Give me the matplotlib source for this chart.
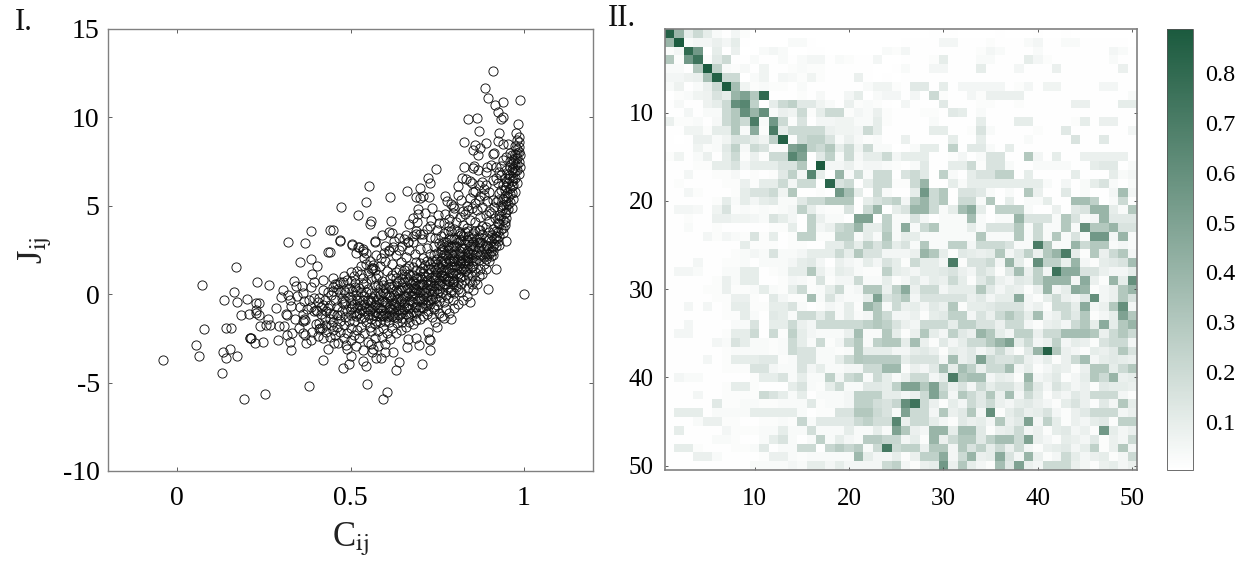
import numpy as np
import matplotlib
matplotlib.use("Agg")
import matplotlib.pyplot as plt
from matplotlib.colors import LinearSegmentedColormap

plt.rcParams["font.family"] = ["Liberation Serif", "DejaVu Serif"]
plt.rcParams["mathtext.fontset"] = "stix"
plt.rcParams["axes.unicode_minus"] = False

# panel I: (C_ij, J_ij)
outer_points = [
    (-.04, -3.72), (.07, .54), (.054, -2.87), (.063, -3.47), (.078, -1.95), (.128, -4.46), (.14, -3.6),
    (.132, -3.25), (.153, -3.1), (.171, -3.47), (.17, 1.54), (.135, -.31), (.163, .14), (.171, -.44),
    (.2, -.29), (.185, -1.19), (.208, -1.14), (.142, -1.93), (.154, -1.93), (.193, -5.9), (.254, -5.62),
    (.379, -5.22), (.209, -2.46), (.209, -2.46), (.212, -2.5), (.225, -2.78), (.248, -2.68), (.23, .69),
    (.264, .5), (.228, -.52), (.235, -.52), (.228, -.89), (.228, -1.08), (.235, -1.18), (.238, -1.78),
    (.256, -1.76), (.269, -1.74), (.262, -1.42), (.293, -1.78), (.307, -1.82), (.29, -2.61), (.317, -2.31),
    (.332, -2.21), (.325, -2.72), (.328, -3.18), (.285, -.8), (.313, -1.14), (.316, -1.16), (.304, .24),
    (.298, -.14), (.319, -.06), (.324, -.33), (.329, -.67), (.337, .75), (.343, .46), (.36, .46), (.363, .09),
    (.353, 1.82), (.387, 1.97), (.402, 1.6), (.39, 1.12), (.394, .71), (.421, .82), (.385, .39), (.321, 2.97),
    (.368, 2.91), (.385, 3.59), (.44, 3.63), (.434, 2.39), (.363, -1.14), (.365, -1.42), (.368, -1.45),
    (.362, -1.5), (.399, -.89), (.402, -.93), (.396, -.97), (.413, -1.93), (.417, -1.9), (.41, -1.98),
    (.407, -2.35), (.362, -2.21), (.372, -2.78), (.385, -2.59), (.434, -3.12), (.42, -3.7),
]
upper_points = [
    (.91, 12.62), (.887, 11.68), (.898, 11.1), (.918, 10.72), (.939, 10.87), (.989, 11.0), (.925, 10.3),
    (.941, 10.04), (.934, 9.89), (.838, 9.89), (.866, 9.98), (.983, 9.64), (.871, 9.23), (.93, 9.1), (.977, 9.1),
    (.829, 8.63), (.858, 8.46), (.873, 8.25), (.853, 8.15), (.89, 8.53), (.869, 7.85), (.927, 8.68), (.939, 8.49),
    (.955, 8.49), (.91, 7.93), (.915, 7.97), (.827, 7.17), (.856, 7.27), (.854, 7.12), (.869, 7.02), (.895, 7.17),
    (.89, 6.89), (.919, 7.17), (.935, 7.25), (.747, 7.06), (.723, 6.59), (.729, 6.27), (.553, 6.12), (.7, 5.99),
    (.662, 5.82), (.613, 5.51), (.545, 5.23), (.473, 4.95), (.523, 4.5), (.56, 4.16), (.555, 3.97), (.617, 4.16),
    (.449, 3.63), (.471, 3.06), (.505, 2.82), (.521, 2.69), (.535, 2.55), (.57, 3.03), (.611, 3.53), (.621, 3.46),
    (.659, 3.36), (.69, 3.42), (.702, 3.42), (.665, 2.97), (.68, 4.31), (.692, 4.08), (.695, 4.8), (.695, 4.53),
    (.715, 4.61), (.688, 5.51), (.7, 5.42), (.709, 5.55), (.726, 5.5), (.772, 5.57), (.779, 5.29), (.789, 5.1),
    (.81, 6.12), (.821, 6.55), (.832, 6.49), (.844, 6.4), (.851, 6.27), (.859, 5.83), (.774, 4.53), (.753, 4.48),
    (.731, 4.19), (.797, 4.57), (.892, 6.17), (.91, 6.46), (.935, 6.74), (.933, 5.89),
]
lower_points = [
    (1.0, 0.0), (.896, .29), (.921, 1.44), (.844, -.46), (.854, .24), (.75, -1.87), (.79, -1.4), (.77, -1.37),
    (.723, -2.16), (.727, -2.55), (.729, -2.58), (.729, -3.16), (.697, -2.89), (.69, -2.46), (.707, -3.95),
    (.639, -3.83), (.63, -4.31), (.547, -5.1), (.604, -5.51), (.594, -5.95), (.535, -3.8), (.544, -4.06),
    (.495, -3.93), (.479, -4.19), (.502, -3.48), (.561, -3.25), (.56, -2.84), (.486, -2.87), (.452, -2.78),
    (.574, -3.63), (.588, -3.59), (.601, -3.25), (.623, -3.25), (.662, -3.0), (.666, -2.55), (.5, 1.27), (.48, 1.03),
    (.531, 1.14), (.562, 1.46), (.566, 1.5), (.558, 1.42), (.55, 1.18), (.545, .65), (.514, .65), (.514, .43),
    (.477, .71), (.45, .9), (.45, .43), (.505, 2.8), (.516, 2.35), (.524, 2.65), (.535, 2.46), (.545, 2.35),
    (.57, 2.97), (.471, 3.0), (.442, 2.37), (.587, 2.03), (.596, 2.31), (.611, 2.5), (.622, 2.65), (.665, 2.97),
]
# right hand band, close to the curve
band_points = [
    (.985, 8.6), (.985, 8.3), (.98, 8.0), (.99, 7.9), (.975, 8.4), (.98, 7.7), (.985, 7.5), (.975, 7.3), (.99, 7.2),
    (.97, 7.6), (.965, 7.9), (.98, 7.0), (.97, 6.9), (.96, 7.2), (.985, 6.8), (.975, 6.6), (.965, 6.4), (.955, 6.8),
    (.97, 6.2), (.98, 6.3), (.96, 6.0), (.95, 6.4), (.965, 5.7), (.975, 5.8), (.955, 5.5), (.945, 5.9), (.96, 5.2),
    (.97, 5.4), (.95, 5.0), (.94, 5.4), (.955, 4.8), (.965, 4.9), (.945, 4.6), (.935, 5.0), (.95, 4.3), (.94, 4.2),
    (.93, 4.5), (.925, 4.0), (.945, 3.9), (.935, 3.7), (.92, 3.6), (.93, 3.3), (.915, 3.2), (.91, 3.7), (.925, 3.0),
    (.905, 3.0), (.92, 2.7), (.9, 2.6), (.985, 8.9), (.98, 8.75), (.975, 7.95), (.97, 7.15), (.958, 6.55), (.952, 5.7),
    (.948, 5.25), (.938, 4.75), (.928, 4.25), (.918, 4.3), (.908, 3.35), (.9, 3.15), (.895, 2.3), (.912, 2.45),
    (.89, 2.0), (.905, 2.15), (.885, 1.7), (.9, 1.85), (.875, 1.45), (.89, 1.4), (.87, 1.05), (.88, 1.15),
    (.86, .8), (.865, .55), (.85, .6), (.84, .35), (.835, -.1), (.825, -.3), (.82, .15), (.81, -.55), (.8, -.8),
    (.795, -.35), (.785, -1.05), (.775, -.85), (.765, -1.25), (.755, -1.05), (.745, -1.55), (.735, -1.3),
    (.96, 7.55), (.95, 7.0), (.945, 6.55), (.94, 6.15), (.93, 5.75), (.925, 5.3), (.915, 4.95), (.905, 4.6),
    (.9, 4.15), (.89, 3.8), (.88, 3.4), (.875, 2.95), (.87, 2.6), (.86, 2.2), (.855, 1.85), (.845, 1.5), (.84, 1.1),
    (.83, .8), (.82, .55), (.81, .3), (.8, .05), (.79, .25), (.78, -.2), (.77, -.45), (.76, -.15), (.75, -.6),
    (.74, -.85), (.73, -.55), (.72, -1.1), (.71, -.8), (.7, -1.4), (.69, -1.05), (.68, -1.7), (.67, -1.3),
]
# thick middle of the cloud
body_upper = [
    (.95, 3.0), (.94, 3.45), (.93, 2.8), (.92, 3.15), (.91, 2.2), (.9, 3.5), (.9, 4.7), (.895, 5.25), (.89, 4.5), (.885, 5.6),
    (.88, 4.95), (.88, 3.85), (.875, 4.35), (.87, 5.35), (.87, 3.65), (.865, 4.75), (.865, 3.1), (.86, 5.15), (.86, 4.1),
    (.855, 3.45), (.85, 4.85), (.85, 2.85), (.845, 5.45), (.845, 4.2), (.84, 3.6), (.84, 2.35), (.835, 5.0), (.835, 3.05),
    (.83, 4.55), (.83, 1.95), (.825, 3.9), (.825, 2.6), (.82, 5.3), (.82, 3.35), (.815, 4.35), (.815, 2.2), (.81, 5.6),
    (.81, 2.95), (.805, 1.65), (.8, 4.9), (.8, 3.7), (.8, 2.45), (.795, 1.2), (.79, 3.15), (.79, 1.9), (.785, 4.25),
    (.785, 2.6), (.78, 3.55), (.78, 1.45), (.775, 2.2), (.775, .85), (.77, 4.0), (.77, 2.95), (.765, 1.7), (.76, 3.3),
    (.76, 2.4), (.76, 1.1), (.755, .5), (.75, 2.0), (.75, 3.65), (.745, 1.35), (.74, 2.75), (.74, .8), (.735, 4.85),
    (.735, 1.85), (.73, 3.25), (.73, 2.3), (.73, .25), (.725, 1.15), (.72, 3.7), (.72, 2.6), (.72, -.1), (.715, 1.65),
    (.71, 2.05), (.71, .6), (.705, 3.1), (.7, 1.3), (.7, 2.55), (.7, -.2), (.695, .9), (.69, 3.6), (.69, 1.8), (.69, .3),
    (.685, 2.25), (.68, 2.95), (.68, 1.1), (.68, -.45), (.675, .55), (.67, 1.6), (.67, 3.95), (.665, .05), (.66, 2.1),
    (.66, .95), (.66, -.75), (.655, 1.35), (.65, 2.7), (.65, .4), (.65, -.25), (.645, 1.8), (.64, .75), (.64, 3.2),
    (.64, -.6), (.635, .1), (.63, 1.25), (.63, 2.2), (.63, -.95), (.625, .5), (.62, 1.7), (.62, -.3), (.615, .9),
    (.61, -.05), (.61, 2.45), (.61, -.7), (.605, 1.3), (.6, .35), (.6, -1.05), (.6, 1.85), (.595, -.4), (.59, .75),
    (.59, 3.35), (.585, -.8), (.58, .15), (.58, 1.1), (.58, -.25), (.575, 2.2), (.57, .5), (.57, -.6), (.57, -1.0),
    (.565, 1.65), (.56, .05), (.56, .85), (.555, -.35), (.55, .3), (.55, -.85), (.545, 1.7), (.54, -.1), (.54, -.55),
    (.535, .6), (.53, -.9), (.53, .15), (.525, -.3), (.52, 1.3), (.52, -.7), (.515, -.05), (.51, -1.0), (.505, .2),
    (.5, -.5), (.495, -.15), (.49, -.95), (.485, .1), (.48, -.55), (.475, -.2), (.47, -1.15), (.465, .3), (.46, -.75),
    (.455, -.3), (.45, -1.1), (.445, -.05), (.44, -.6), (.435, .1), (.43, -.95), (.425, -.35), (.42, .25), (.415, -.7),
    (.41, -.2), (.44, -1.05), (.45, .2), (.46, .55), (.47, .7), (.48, .25), (.49, .8), (.5, .75), (.51, 1.05), (.53, 1.6),
    (.54, 2.05), (.555, 1.9), (.57, 1.35), (.585, 1.6), (.6, 2.75), (.625, 3.0), (.64, 2.5), (.655, 3.1), (.67, 2.5),
    (.68, 3.3), (.71, 3.4), (.73, 3.85), (.745, 3.2), (.755, 4.05), (.77, 3.45), (.785, 3.85), (.795, 5.0), (.805, 4.1),
    (.815, 3.45), (.825, 4.7), (.84, 4.75), (.855, 5.8), (.87, 6.2), (.88, 6.35), (.9, 5.8), (.91, 5.35), (.92, 5.2),
    (.925, 6.3), (.93, 6.9), (.94, 7.6), (.95, 7.75), (.96, 8.0), (.92, 6.55), (.905, 7.3), (.885, 5.95), (.875, 5.55),
]
body_lower = [
    (.86, 1.25), (.85, 1.05), (.845, .75), (.84, 1.7), (.83, 1.3), (.825, 1.75), (.82, .95), (.815, 1.5), (.81, .7),
    (.81, 1.15), (.805, .4), (.8, 1.55), (.8, .8), (.795, .55), (.79, 1.2), (.79, .1), (.785, .75), (.78, 1.0), (.78, .35),
    (.775, -.05), (.77, .6), (.77, 1.35), (.765, .15), (.76, .75), (.755, -.4), (.75, .3), (.75, .95), (.745, -.2),
    (.74, .45), (.74, -.75), (.735, .0), (.73, .75), (.73, -.35), (.725, -.95), (.72, .35), (.715, -.5), (.71, -.1),
    (.71, -1.25), (.705, .25), (.7, -.75), (.7, .55), (.695, -.35), (.69, -1.45), (.69, -.7), (.685, .05), (.68, -1.0),
    (.68, .35), (.675, -.4), (.67, -1.55), (.67, -.8), (.665, -1.15), (.66, -.1), (.66, -1.85), (.655, -.5), (.65, -1.35),
    (.65, -.9), (.645, -2.05), (.64, -.25), (.64, -1.2), (.635, -1.65), (.63, -.45), (.63, -2.2), (.625, -1.3), (.62, -.85),
    (.62, -1.9), (.615, -2.55), (.61, -1.25), (.61, -1.6), (.605, -2.2), (.6, -.45), (.6, -1.5), (.6, -2.8), (.595, -1.9),
    (.59, -1.15), (.59, -2.4), (.585, -1.55), (.58, -.75), (.58, -2.1), (.58, -2.95), (.575, -1.25), (.57, -1.7), (.57, -2.5),
    (.565, -3.1), (.56, -.85), (.56, -1.4), (.56, -2.1), (.555, -1.85), (.55, -1.2), (.55, -2.7), (.545, -1.55), (.54, -2.2),
    (.54, -.95), (.535, -3.15), (.53, -1.35), (.53, -1.85), (.525, -2.5), (.52, -1.1), (.52, -2.05), (.515, -2.95), (.51, -1.5),
    (.51, -2.3), (.505, -.75), (.5, -1.2), (.5, -1.9), (.5, -2.6), (.495, -1.5), (.49, -2.2), (.49, -3.1), (.485, -1.3),
    (.48, -1.75), (.48, -2.5), (.475, -.95), (.47, -1.5), (.47, -2.15), (.465, -2.75), (.46, -1.2), (.46, -1.85), (.455, -2.3),
    (.45, -1.55), (.45, -2.05), (.445, -1.75), (.44, -2.4), (.44, -1.4), (.435, -.8), (.43, -1.75), (.43, -2.15), (.425, -1.35),
    (.42, -.6), (.42, -2.5), (.415, -1.1), (.41, -1.65), (.405, -.45), (.4, -1.7), (.395, -.2), (.39, -2.15), (.385, -.75),
    (.38, -.3), (.375, -.85), (.37, -2.3), (.365, -.4), (.355, -.7), (.35, -1.9), (.345, -.1), (.34, -1.4), (.455, .55),
    (.47, .1), (.485, -.4), (.505, -.3), (.525, .35), (.545, .1), (.565, -.2), (.585, .35), (.605, -.15), (.625, -.05),
    (.645, .25), (.665, .35), (.685, .65), (.705, .85), (.725, .55), (.745, .95), (.765, 1.1), (.655, .7), (.635, .65),
    (.615, .4), (.595, .15), (.575, .9), (.535, .9), (.515, .25), (.495, .35), (.475, -.45), (.675, -.05), (.695, .15),
    (.715, .25), (.735, .35), (.755, .2), (.775, .55), (.795, .9), (.815, 1.0), (.835, 1.45), (.855, 1.6), (.87, 1.95),
    (.88, 2.3), (.89, 2.8), (.86, 2.7), (.85, 2.3), (.84, 2.05), (.83, 2.3), (.82, 1.85), (.81, 1.95), (.8, 2.05),
    (.79, 2.3), (.78, 2.05), (.77, 1.85), (.76, 1.5), (.75, 1.7), (.74, 1.55), (.73, 1.4), (.72, 1.9), (.71, 1.2),
    (.7, 1.75), (.69, 1.35), (.68, 1.55), (.67, 1.15), (.66, 1.5), (.65, 1.15), (.64, 1.4), (.63, .9), (.62, 1.1),
]
# black ridge of the cloud, where the rings pile on top of each other
ridge_points = [
    (.87, 3.25), (.865, 2.9), (.86, 3.6), (.855, 2.55), (.85, 3.2), (.85, 2.05), (.845, 2.75), (.84, 3.3), (.84, 1.85), (.835, 2.45),
    (.835, 3.75), (.83, 2.85), (.83, 1.6), (.825, 3.3), (.825, 2.15), (.82, 2.6), (.82, 1.35), (.815, 3.0), (.815, 1.75), (.81, 2.35),
    (.81, 3.6), (.805, 1.2), (.805, 2.75), (.8, 1.85), (.8, 3.15), (.795, 2.2), (.795, .7), (.79, 2.75), (.79, 1.55), (.785, 1.25),
    (.785, 3.2), (.78, 2.5), (.78, .75), (.775, 1.75), (.775, 2.95), (.77, 1.05), (.77, 2.3), (.765, .45), (.765, 2.05), (.76, 1.25),
    (.76, 2.75), (.755, .8), (.755, 1.55), (.75, 2.35), (.75, .05), (.745, 1.1), (.745, 1.85), (.74, .2), (.74, 2.2), (.735, .95),
    (.735, -.25), (.73, 1.7), (.73, .5), (.725, 1.4), (.725, -.3), (.72, .8), (.72, -.6), (.715, 1.05), (.715, .05), (.71, 1.5),
    (.71, -.35), (.705, .55), (.705, -.7), (.7, .95), (.7, .1), (.695, -.9), (.695, .5), (.69, -.2), (.69, .95), (.685, -.7),
    (.685, .35), (.68, -.1), (.68, .75), (.675, -1.05), (.675, .2), (.67, -.3), (.67, .75), (.665, -.6), (.665, .85), (.66, .3),
    (.66, -1.1), (.655, -.1), (.655, -.85), (.65, .85), (.65, -1.6), (.645, -.4), (.645, -1.05), (.64, .25), (.64, -.85), (.635, -.25),
    (.635, -1.35), (.63, .25), (.63, -.65), (.625, -.55), (.625, -1.05), (.62, .3), (.62, -1.25), (.615, -.15), (.615, -.85), (.61, .55),
    (.61, -1.0), (.605, -.5), (.605, -1.3), (.6, .05), (.6, -.75), (.595, -1.25), (.595, .5), (.59, -.45), (.59, -.9), (.585, -.05),
    (.585, -1.25), (.58, .5), (.58, -1.05), (.575, -.45), (.575, -1.5), (.57, -.1), (.565, -.75), (.565, -1.2), (.56, -.45), (.555, -.95),
    (.55, -.35), (.545, -.75), (.54, -1.3), (.535, -.35), (.53, -.6), (.525, -1.05), (.52, -.35), (.515, -1.25), (.51, -.55), (.5, -.85),
    (.89, 3.2), (.885, 2.55), (.88, 2.9), (.875, 2.2), (.875, 3.65), (.87, 2.95), (.865, 2.35), (.86, 1.95), (.855, 2.95), (.85, 1.6),
    (.845, 2.25), (.84, 2.95), (.835, 2.1), (.83, 3.5), (.825, 1.4), (.82, 3.05), (.815, 2.45), (.81, 1.6), (.805, 3.15), (.8, 2.75),
    (.795, 1.85), (.79, 3.55), (.785, 1.95), (.78, 2.8), (.775, 1.35), (.77, 2.65), (.765, 2.55), (.76, 1.85), (.755, 2.9), (.75, 1.25),
    (.94, 5.05), (.945, 5.55), (.95, 6.05), (.955, 6.3), (.96, 6.75), (.965, 7.05), (.97, 7.4), (.975, 7.7), (.98, 8.2), (.935, 4.4),
    (.93, 3.95), (.925, 3.5), (.92, 3.3), (.915, 2.85), (.91, 2.7), (.905, 2.45), (.9, 2.25), (.895, 2.7), (.89, 2.4), (.885, 2.1),
    (.955, 5.1), (.96, 5.65), (.965, 6.1), (.97, 6.55), (.975, 6.95), (.98, 7.35), (.985, 8.05), (.95, 4.65), (.945, 4.1), (.94, 3.75),
]

# panel II: 100 * value, 50 rows, left and right halves
heat_left = [
    [85, 40, 10, 20, 10, 3, 1, 5, 2, 0, 0, 0, 0, 0, 0, 0, 0, 0, 0, 0, 0, 0, 0, 0, 0],
    [40, 88, 3, 5, 5, 8, 5, 10, 1, 0, 0, 0, 0, 3, 3, 1, 0, 0, 0, 0, 0, 0, 0, 0, 0],
    [2, 5, 80, 55, 0, 10, 1, 8, 0, 0, 3, 5, 3, 0, 0, 1, 1, 0, 0, 0, 0, 0, 0, 3, 2],
    [30, 2, 55, 75, 2, 12, 20, 1, 1, 3, 1, 1, 3, 1, 3, 5, 5, 1, 3, 2, 1, 1, 5, 0, 0],
    [3, 3, 1, 30, 88, 25, 3, 2, 4, 1, 6, 1, 1, 2, 3, 2, 2, 1, 1, 1, 1, 1, 0, 0, 1],
    [5, 5, 7, 8, 35, 85, 20, 20, 0, 3, 6, 1, 5, 4, 2, 6, 2, 1, 1, 1, 8, 1, 0, 1, 0],
    [3, 7, 1, 3, 8, 20, 88, 35, 6, 2, 3, 2, 2, 1, 3, 1, 1, 1, 1, 1, 1, 3, 6, 6, 2],
    [0, 2, 3, 6, 7, 15, 10, 40, 50, 30, 80, 1, 1, 1, 2, 1, 4, 1, 1, 5, 10, 0, 3, 5, 5],
    [1, 4, 1, 1, 7, 10, 20, 60, 65, 25, 1, 10, 20, 25, 12, 12, 6, 3, 1, 8, 2, 3, 2, 1, 0],
    [1, 1, 5, 1, 3, 3, 20, 30, 60, 40, 60, 3, 8, 6, 20, 2, 10, 20, 20, 2, 5, 3, 8, 2, 1],
    [8, 2, 2, 3, 1, 4, 20, 30, 20, 70, 3, 55, 20, 2, 15, 1, 5, 5, 6, 6, 3, 3, 10, 2, 1],
    [1, 1, 6, 6, 2, 10, 10, 30, 3, 45, 2, 70, 10, 20, 20, 20, 20, 8, 6, 6, 5, 20, 10, 1, 1],
    [1, 0, 1, 8, 8, 3, 6, 15, 15, 10, 6, 25, 85, 2, 20, 25, 25, 15, 3, 8, 4, 2, 3, 1, 1],
    [1, 1, 1, 6, 2, 3, 12, 25, 4, 20, 15, 2, 2, 50, 55, 25, 20, 30, 10, 20, 6, 20, 3, 3, 0],
    [2, 6, 1, 3, 8, 1, 10, 20, 2, 8, 2, 20, 20, 65, 50, 1, 12, 25, 3, 20, 4, 10, 10, 20, 5],
    [1, 1, 1, 2, 2, 10, 10, 15, 5, 10, 10, 10, 15, 15, 30, 1, 88, 5, 5, 8, 3, 5, 5, 3, 2],
    [1, 1, 5, 1, 1, 2, 2, 4, 1, 2, 1, 2, 12, 25, 5, 65, 10, 1, 40, 3, 20, 3, 20, 20, 1],
    [1, 2, 1, 1, 1, 1, 2, 2, 8, 2, 10, 10, 20, 5, 20, 20, 1, 82, 15, 20, 1, 10, 20, 20, 2],
    [1, 1, 5, 2, 1, 1, 1, 2, 10, 15, 15, 20, 6, 30, 1, 1, 2, 1, 55, 35, 10, 1, 20, 3, 1],
    [1, 1, 1, 1, 1, 2, 10, 3, 10, 5, 10, 12, 3, 3, 12, 20, 20, 30, 30, 30, 1, 10, 15, 20, 25],
    [1, 5, 5, 4, 1, 6, 15, 2, 3, 2, 3, 2, 3, 5, 25, 10, 3, 2, 2, 15, 1, 20, 40, 1, 10],
    [1, 1, 2, 1, 1, 8, 8, 6, 6, 5, 3, 15, 10, 5, 1, 25, 8, 3, 3, 1, 50, 50, 1, 25, 3],
    [1, 1, 3, 1, 1, 2, 1, 1, 1, 1, 1, 2, 2, 10, 1, 25, 5, 8, 20, 25, 40, 10, 10, 25, 3],
    [1, 1, 1, 1, 5, 2, 5, 3, 2, 15, 2, 10, 1, 2, 25, 25, 2, 2, 25, 25, 3, 10, 3, 30, 3],
    [1, 1, 1, 1, 1, 1, 1, 1, 10, 2, 2, 2, 1, 2, 2, 1, 1, 10, 10, 20, 10, 25, 15, 25, 10],
    [1, 1, 1, 1, 1, 1, 1, 2, 3, 5, 3, 15, 3, 3, 5, 10, 10, 10, 20, 10, 30, 15, 15, 5, 5],
    [1, 1, 1, 5, 1, 1, 2, 2, 3, 1, 3, 3, 3, 5, 10, 12, 5, 1, 8, 5, 3, 10, 5, 15, 10],
    [1, 5, 5, 3, 1, 1, 3, 3, 10, 10, 1, 2, 3, 10, 10, 30, 8, 3, 10, 8, 3, 2, 2, 25, 10],
    [1, 1, 1, 1, 1, 2, 8, 3, 10, 10, 1, 1, 2, 5, 4, 2, 15, 2, 5, 5, 20, 3, 3, 10, 2],
    [1, 1, 1, 1, 2, 2, 8, 2, 2, 3, 10, 3, 2, 10, 20, 2, 3, 10, 20, 3, 5, 30, 30, 8, 25],
    [1, 1, 1, 1, 1, 2, 2, 8, 8, 2, 1, 12, 5, 2, 2, 35, 3, 15, 5, 3, 3, 10, 50, 15, 20],
    [1, 1, 5, 1, 5, 1, 2, 10, 10, 2, 2, 10, 10, 15, 3, 1, 2, 5, 3, 10, 2, 40, 30, 3, 20],
    [1, 1, 1, 1, 1, 1, 2, 2, 10, 3, 1, 12, 10, 3, 20, 20, 10, 20, 3, 10, 3, 5, 30, 20, 5],
    [1, 1, 5, 1, 1, 1, 1, 3, 3, 15, 1, 10, 10, 20, 8, 5, 20, 20, 20, 20, 20, 25, 30, 25, 15],
    [1, 5, 5, 1, 1, 1, 2, 10, 10, 20, 1, 20, 2, 25, 10, 5, 3, 3, 3, 8, 35, 3, 3, 30, 10],
    [1, 1, 1, 1, 1, 5, 3, 15, 10, 3, 3, 2, 3, 20, 10, 3, 20, 2, 5, 20, 30, 3, 25, 30, 30],
    [1, 1, 1, 1, 1, 1, 2, 3, 3, 3, 3, 2, 3, 20, 15, 15, 3, 3, 2, 3, 30, 10, 10, 10, 5],
    [1, 1, 1, 1, 5, 1, 2, 10, 10, 10, 12, 12, 2, 3, 15, 15, 3, 3, 10, 20, 30, 28, 28, 28, 28],
    [1, 1, 1, 1, 1, 1, 2, 2, 2, 15, 15, 5, 3, 3, 15, 5, 10, 3, 3, 5, 5, 20, 20, 38, 38],
    [1, 5, 3, 3, 1, 1, 1, 1, 1, 2, 10, 10, 15, 3, 10, 3, 3, 25, 5, 20, 25, 3, 20, 10, 3],
    [1, 1, 1, 1, 1, 1, 2, 10, 10, 2, 1, 1, 1, 10, 15, 3, 2, 10, 20, 3, 3, 12, 12, 10, 25],
    [1, 1, 1, 5, 1, 1, 2, 2, 2, 2, 20, 15, 10, 3, 10, 1, 3, 3, 3, 5, 25, 25, 25, 10, 10],
    [1, 1, 1, 1, 1, 12, 2, 2, 3, 3, 2, 2, 3, 3, 3, 12, 2, 3, 3, 5, 25, 25, 18, 15, 22],
    [1, 10, 10, 10, 1, 3, 3, 3, 3, 10, 10, 10, 10, 10, 3, 1, 2, 2, 15, 15, 30, 30, 20, 15, 3],
    [1, 1, 1, 3, 8, 8, 2, 2, 1, 1, 2, 2, 3, 2, 22, 3, 12, 12, 12, 12, 20, 25, 18, 18, 65],
    [1, 10, 1, 1, 1, 1, 5, 2, 2, 2, 3, 3, 10, 3, 3, 18, 3, 3, 3, 10, 3, 3, 10, 3, 50],
    [1, 1, 1, 1, 1, 3, 3, 2, 1, 1, 3, 10, 15, 3, 1, 3, 25, 3, 10, 5, 3, 28, 28, 22, 22],
    [1, 10, 10, 2, 1, 1, 1, 2, 2, 3, 12, 1, 3, 3, 20, 20, 1, 22, 28, 22, 28, 3, 20, 72, 20],
    [1, 1, 1, 8, 8, 3, 1, 1, 1, 1, 2, 8, 8, 3, 2, 3, 3, 3, 3, 3, 38, 10, 5, 5, 10],
    [1, 1, 1, 1, 1, 1, 1, 1, 1, 3, 3, 3, 3, 5, 3, 10, 10, 5, 10, 5, 5, 5, 5, 20, 25],
]
heat_right = [
    [0, 0, 0, 1, 1, 1, 0, 0, 0, 0, 1, 0, 0, 0, 1, 0, 0, 1, 0, 0, 0, 0, 0, 0, 0],
    [1, 1, 1, 1, 5, 5, 1, 1, 1, 2, 1, 1, 1, 3, 5, 1, 1, 3, 3, 1, 1, 1, 1, 1, 0],
    [5, 1, 1, 1, 1, 1, 1, 1, 2, 5, 3, 1, 1, 1, 3, 1, 1, 1, 1, 1, 1, 1, 5, 3, 1],
    [1, 1, 1, 2, 10, 1, 1, 1, 3, 3, 1, 1, 1, 10, 5, 2, 1, 1, 1, 1, 1, 1, 3, 1, 1],
    [3, 1, 1, 5, 5, 1, 1, 1, 10, 1, 1, 1, 5, 1, 1, 1, 8, 1, 1, 1, 1, 1, 1, 8, 1],
    [1, 1, 1, 1, 1, 1, 1, 1, 1, 1, 1, 1, 1, 1, 1, 1, 1, 1, 1, 1, 1, 1, 1, 1, 1],
    [1, 12, 12, 1, 10, 1, 5, 5, 5, 5, 5, 1, 2, 5, 1, 6, 6, 1, 1, 1, 1, 5, 5, 1, 1],
    [1, 5, 1, 20, 2, 1, 1, 5, 2, 8, 8, 8, 8, 1, 1, 1, 1, 1, 1, 1, 1, 1, 1, 1, 3],
    [5, 1, 1, 1, 12, 1, 1, 1, 2, 2, 1, 1, 2, 1, 1, 1, 1, 1, 8, 8, 1, 1, 1, 10, 10],
    [1, 1, 2, 2, 1, 12, 10, 1, 3, 1, 1, 1, 1, 1, 1, 1, 1, 1, 1, 1, 1, 1, 1, 1, 1],
    [1, 1, 1, 3, 1, 1, 1, 1, 10, 1, 1, 1, 10, 10, 1, 1, 1, 1, 2, 10, 1, 8, 8, 1, 1],
    [1, 1, 1, 10, 10, 1, 1, 2, 15, 3, 1, 1, 1, 1, 2, 1, 1, 12, 1, 1, 1, 1, 1, 1, 5],
    [8, 1, 1, 1, 1, 10, 1, 1, 10, 1, 1, 1, 1, 3, 1, 1, 1, 1, 15, 1, 1, 12, 1, 1, 1],
    [1, 3, 10, 10, 1, 25, 1, 12, 12, 3, 1, 10, 1, 1, 1, 1, 1, 1, 1, 1, 1, 1, 1, 1, 1],
    [10, 10, 10, 1, 1, 2, 5, 1, 3, 15, 15, 1, 1, 30, 5, 1, 10, 1, 1, 8, 8, 8, 8, 8, 1],
    [1, 3, 12, 1, 1, 10, 10, 20, 2, 15, 15, 3, 1, 1, 3, 3, 3, 3, 1, 1, 10, 12, 12, 1, 3],
    [15, 20, 12, 1, 25, 3, 1, 10, 15, 15, 25, 25, 1, 10, 1, 1, 1, 1, 10, 1, 1, 1, 10, 3, 5],
    [2, 20, 40, 1, 1, 10, 3, 10, 10, 10, 10, 10, 10, 10, 10, 3, 1, 5, 1, 3, 10, 15, 3, 1, 3],
    [1, 10, 55, 20, 30, 1, 15, 15, 12, 3, 1, 3, 1, 30, 8, 1, 1, 12, 1, 3, 1, 1, 5, 35, 5],
    [5, 30, 40, 20, 30, 1, 20, 20, 3, 30, 1, 10, 1, 3, 3, 10, 1, 1, 35, 35, 25, 1, 3, 20, 1],
    [15, 40, 40, 20, 3, 10, 35, 45, 10, 1, 25, 25, 25, 3, 1, 1, 8, 1, 12, 15, 40, 40, 10, 3, 30],
    [3, 15, 5, 1, 3, 3, 3, 35, 3, 1, 3, 3, 40, 15, 15, 15, 3, 30, 15, 3, 5, 40, 12, 12, 12],
    [45, 3, 20, 30, 3, 3, 3, 10, 3, 15, 15, 15, 30, 3, 20, 3, 3, 30, 3, 60, 30, 30, 40, 15, 15],
    [10, 10, 3, 3, 3, 3, 3, 3, 30, 3, 3, 3, 30, 3, 20, 3, 30, 3, 15, 3, 55, 55, 5, 40, 3],
    [15, 3, 30, 3, 3, 25, 25, 5, 20, 20, 20, 15, 3, 3, 70, 30, 3, 3, 40, 20, 30, 30, 3, 5, 3],
    [5, 8, 40, 30, 10, 2, 12, 10, 8, 10, 30, 5, 12, 25, 8, 30, 40, 70, 10, 2, 30, 8, 20, 30, 5],
    [2, 20, 10, 10, 5, 70, 2, 15, 15, 20, 5, 40, 10, 2, 60, 25, 25, 8, 40, 5, 2, 10, 12, 15, 35],
    [8, 5, 10, 10, 12, 15, 8, 5, 15, 10, 2, 12, 35, 8, 25, 5, 75, 45, 45, 15, 15, 8, 5, 5, 10],
    [5, 12, 5, 10, 8, 20, 10, 2, 12, 20, 8, 5, 12, 10, 25, 40, 40, 40, 5, 45, 8, 2, 40, 10, 60],
    [45, 8, 20, 20, 5, 10, 10, 10, 30, 12, 5, 10, 8, 2, 8, 40, 5, 10, 45, 40, 2, 5, 8, 30, 40],
    [30, 5, 15, 15, 15, 15, 15, 8, 12, 5, 10, 10, 45, 5, 2, 10, 20, 8, 5, 12, 60, 5, 8, 30, 15],
    [8, 10, 5, 12, 8, 30, 2, 10, 10, 12, 15, 15, 15, 5, 8, 2, 20, 20, 10, 45, 5, 8, 30, 60, 5],
    [5, 8, 2, 10, 12, 25, 25, 5, 15, 8, 20, 30, 20, 10, 35, 5, 8, 20, 12, 30, 2, 5, 10, 50, 30],
    [8, 5, 20, 20, 20, 10, 25, 25, 15, 15, 8, 20, 20, 5, 2, 8, 10, 5, 20, 30, 10, 45, 10, 30, 40],
    [2, 8, 30, 10, 5, 25, 12, 8, 40, 30, 10, 5, 25, 25, 8, 20, 20, 35, 35, 35, 30, 8, 20, 30, 20],
    [10, 35, 8, 2, 12, 5, 10, 20, 20, 30, 40, 50, 10, 20, 5, 8, 25, 5, 10, 8, 2, 15, 20, 20, 5],
    [5, 10, 12, 8, 2, 10, 8, 12, 5, 10, 20, 8, 2, 12, 40, 85, 30, 8, 5, 2, 10, 8, 12, 30, 15],
    [10, 15, 15, 15, 5, 35, 8, 12, 50, 20, 15, 15, 20, 8, 5, 10, 2, 8, 20, 35, 5, 10, 12, 10, 8],
    [2, 8, 5, 12, 35, 10, 35, 25, 8, 20, 20, 35, 5, 10, 2, 5, 10, 8, 2, 8, 30, 30, 10, 20, 30],
    [8, 20, 20, 5, 10, 70, 30, 35, 35, 5, 10, 8, 2, 40, 5, 8, 12, 2, 5, 10, 30, 20, 40, 8, 10],
    [50, 50, 30, 50, 20, 8, 15, 5, 20, 10, 15, 15, 8, 30, 12, 5, 15, 10, 5, 8, 2, 12, 10, 10, 8],
    [5, 8, 20, 50, 25, 5, 30, 20, 12, 30, 8, 35, 5, 20, 10, 2, 8, 5, 12, 8, 20, 20, 20, 5, 2],
    [60, 75, 20, 8, 2, 10, 5, 20, 12, 20, 8, 5, 10, 12, 8, 5, 2, 10, 15, 8, 2, 12, 5, 30, 10],
    [50, 20, 20, 5, 30, 8, 12, 30, 5, 60, 2, 10, 15, 8, 10, 15, 5, 2, 8, 12, 20, 20, 20, 5, 8],
    [8, 20, 20, 10, 5, 2, 12, 8, 10, 5, 30, 8, 12, 50, 5, 25, 10, 2, 8, 5, 10, 12, 2, 25, 25],
    [30, 8, 5, 40, 40, 10, 35, 35, 12, 2, 8, 10, 20, 5, 8, 2, 10, 12, 5, 8, 2, 55, 10, 5, 8],
    [5, 10, 2, 40, 8, 20, 30, 30, 12, 25, 35, 35, 20, 50, 8, 5, 2, 10, 8, 5, 12, 2, 8, 5, 20],
    [25, 25, 8, 30, 30, 5, 30, 15, 25, 10, 20, 8, 20, 5, 2, 8, 10, 12, 5, 10, 25, 2, 8, 30, 5],
    [2, 8, 25, 25, 45, 5, 20, 40, 8, 10, 45, 15, 5, 40, 8, 2, 5, 20, 10, 5, 8, 10, 2, 5, 20],
    [5, 2, 8, 10, 55, 8, 30, 10, 5, 2, 35, 12, 50, 8, 5, 20, 20, 20, 8, 5, 2, 8, 10, 5, 8],
]

x_ticks_left = [0, 0.5, 1]
x_labels_left = ["0", "0.5", "1"]
y_ticks_left = [-10, -5, 0, 5, 10, 15]
heat_ticks = [10, 20, 30, 40, 50]
cbar_ticks = [0.1, 0.2, 0.3, 0.4, 0.5, 0.6, 0.7, 0.8]

W, H = 1247, 567
fig = plt.figure(figsize=(W / 100, H / 100), dpi=100)


def px_axes(x0, y0, x1, y1):
    return fig.add_axes([x0 / W, 1 - y1 / H, (x1 - x0) / W, (y1 - y0) / H])


ax = px_axes(108, 29, 593, 471)
pts = np.array(outer_points + upper_points + lower_points + band_points + body_upper + body_lower + ridge_points)
ax.plot(pts[:, 0], pts[:, 1], "o", mfc="none", mec="#111111", ms=6.6, mew=0.65)
ax.set_xlim(-0.2, 1.2)
ax.set_ylim(-10, 15)
ax.set_xticks(x_ticks_left)
ax.set_xticklabels(x_labels_left)
ax.set_yticks(y_ticks_left)
ax.tick_params(direction="in", top=True, right=True, length=3, width=0.6, labelsize=20, color="#444444")
ax.tick_params(axis="x", pad=11)
ax.tick_params(axis="y", pad=6)
ax.set_xlabel(r"C$_{\mathrm{ij}}$", fontsize=25, labelpad=7, color="#222222")
ax.set_ylabel(r"J$_{\mathrm{ij}}$", fontsize=25, labelpad=6, color="#222222")
for s in ax.spines.values():
    s.set_color("#808080")
    s.set_linewidth(1.0)

matrix = np.hstack([np.array(heat_left), np.array(heat_right)]) / 100
cmap = LinearSegmentedColormap.from_list("wg", ["#ffffff", "#1b5a3e"])
ax2 = px_axes(665, 29, 1137, 470)
im = ax2.imshow(matrix, cmap=cmap, vmin=0.004, vmax=0.888, aspect="auto", interpolation="nearest",
                extent=[0.5, 50.5, 50.5, 0.5])
ax2.set_xticks(heat_ticks)
ax2.set_yticks(heat_ticks)
ax2.tick_params(direction="in", top=True, right=True, length=2.5, width=0.6, labelsize=18, color="#444444")
ax2.tick_params(axis="x", pad=13)
ax2.tick_params(axis="y", pad=8)
for s in ax2.spines.values():
    s.set_color("#808080")
    s.set_linewidth(1.2)

cax = px_axes(1167, 29, 1193, 470)
cb = fig.colorbar(im, cax=cax)
cb.set_ticks(cbar_ticks)
cb.ax.tick_params(direction="in", length=0, labelsize=17.5, pad=9)
cb.outline.set_edgecolor("#555555")
cb.outline.set_linewidth(0.6)

fig.text(15 / W, 1 - 30 / H, "I.", fontsize=22, color="#111111")
fig.text(608 / W, 1 - 26 / H, "II.", fontsize=22, color="#111111")

fig.savefig("out.png", dpi=100)
